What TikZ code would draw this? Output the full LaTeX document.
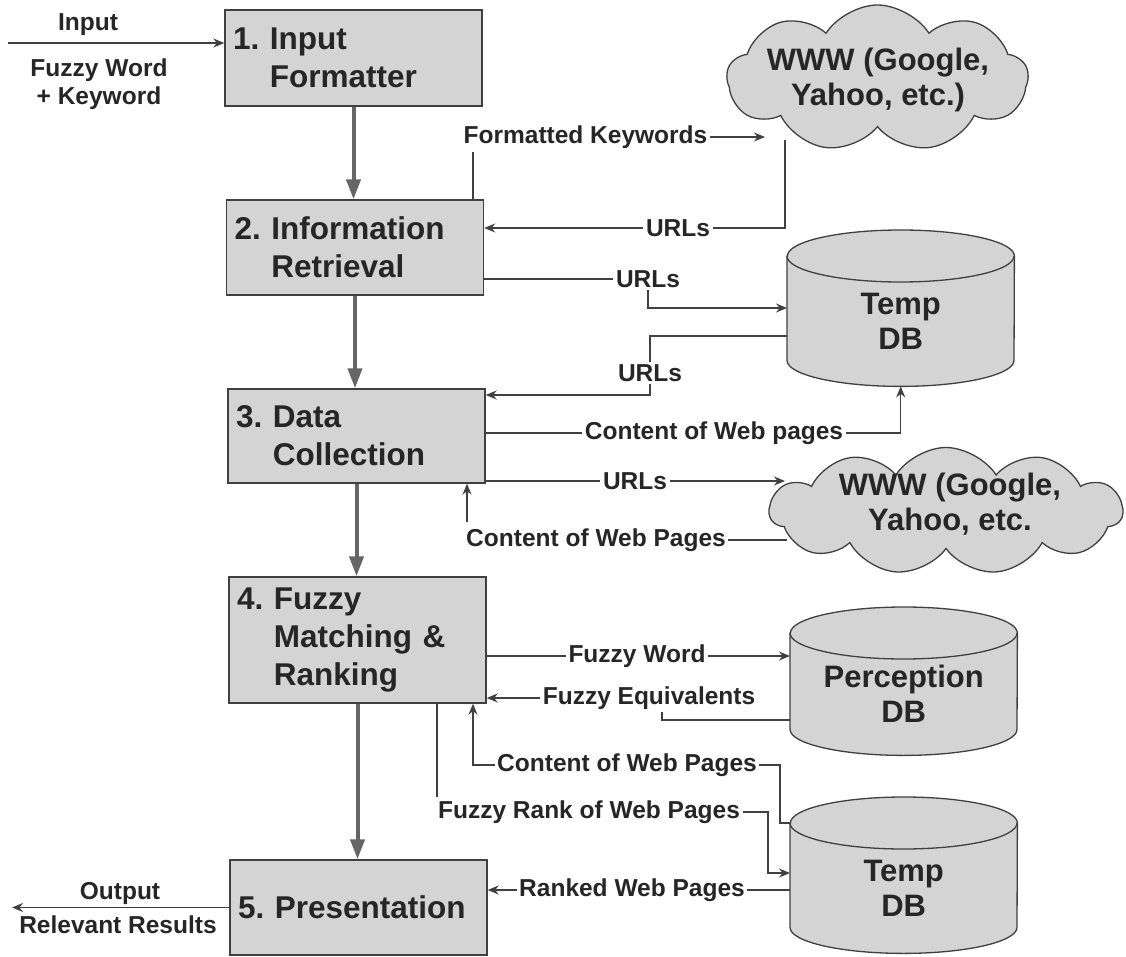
\documentclass[tikz,border=0pt]{standalone}
\usepackage{fontspec}
\setmainfont{Liberation Sans}
\usetikzlibrary{shapes.symbols, arrows.meta, backgrounds}

% database cylinder: name, left x, top of body (centre of the lid), width, half width, body height, text
\newcommand{\dbunit}[7]{%
  \node[dbbody, minimum width=#4pt, minimum height=#6pt, anchor=north west] (#1) at (#2,#3) {#7};
  \begin{scope}[on background layer]
    \path[dbfill] (#1.north west) -- ([yshift=26pt]#1.south west)
      arc[start angle=180, end angle=360, x radius=#5pt, y radius=26pt]
      -- (#1.north east)
      arc[start angle=0, end angle=180, x radius=#5pt, y radius=26pt] -- cycle;
    \draw[dbfill, fill=none] (#1.north west)
      arc[start angle=180, end angle=360, x radius=#5pt, y radius=26pt];
  \end{scope}}

\begin{document}
\begin{tikzpicture}[x=1pt, y=-1pt,
  stage/.style={draw=black!75, line width=1.4pt, fill=black!17, text=black!85,
    text width=241pt, align=left, inner sep=8pt,
    font=\fontsize{31.5}{38}\selectfont\bfseries},
  tag/.style={text=black!85, inner sep=2.5pt, align=center,
    font=\fontsize{24.5}{28}\selectfont\bfseries},
  ln/.style={draw=black!75, line width=1.3pt},
  arr/.style={ln, -{Stealth[length=11pt, width=9pt]}},
  flow/.style={draw=black!60, line width=4pt, -{Triangle[length=20pt, width=14pt]}},
  web/.style={cloud, cloud puff arc=115, cloud ignores aspect,
    draw=black!75, line width=1.3pt, fill=black!17, inner sep=0pt},
  bigtxt/.style={text=black!85, align=center, font=\fontsize{31}{35}\selectfont\bfseries},
  dbbody/.style={bigtxt, inner sep=0pt},
  dbfill/.style={draw=black!75, line width=1.3pt, fill=black!17},
]
\begin{scope}[on background layer]
  \fill[white] (0,0) rectangle (1126,957);
\end{scope}
\useasboundingbox (0,0) rectangle (1126,957);

% processing stages
\node[stage, minimum height=96pt] (s1) at (353.5,58) {1.~Input\\\hphantom{1.~}Formatter};
\node[stage, minimum height=95pt] (s2) at (355,247.5) {2.~Information\\\hphantom{2.~}Retrieval};
\node[stage, minimum height=94pt] (s3) at (356.5,436) {3.~Data\\\hphantom{3.~}Collection};
\node[stage, minimum height=126pt] (s4) at (357.5,640) {4.~Fuzzy\\\hphantom{4.~}Matching \&\\\hphantom{4.~}Ranking};
\node[stage, minimum height=95pt] (s5) at (358.5,907.5) {5.~Presentation};

% web search engines
\node[web, cloud puffs=9, minimum width=301pt, minimum height=147pt] (wwwA) at (877.5,78.5) {};
\node[bigtxt] (wwwAtxt) at (878,80) {WWW (Google,\\Yahoo, etc.)};
\node[web, cloud puffs=11, minimum width=353pt, minimum height=127pt] (wwwB) at (946,511) {};
\node[bigtxt] (wwwBtxt) at (950,504) {WWW (Google,\\Yahoo, etc.};

% databases
\dbunit{tmpA}{787}{256}{227}{113.5}{130}{Temp\\DB}
\dbunit{percdb}{790}{633}{227}{113.5}{122}{Perception\\DB}
\dbunit{tmpB}{790}{823}{227}{113.5}{130}{Temp\\DB}

% labels
\node[tag] (lIn) at (88,25) {Input};
\node[tag] (lFK) at (99,84) {Fuzzy Word\\+ Keyword};
\node[tag] (lOut) at (120,893) {Output};
\node[tag] (lRR) at (118,925) {Relevant Results};
\node[tag] (lFmt) at (585.5,137) {Formatted Keywords};
\node[tag] (lU1) at (678,228) {URLs};
\node[tag] (lU2) at (648,279) {URLs};
\node[tag] (lU3) at (650,373) {URLs};
\node[tag] (lCA) at (714,433) {Content of Web pages};
\node[tag] (lU4) at (635,481) {URLs};
\node[tag] (lCB) at (596,540) {Content of Web Pages};
\node[tag] (lFW) at (637,656) {Fuzzy Word};
\node[tag] (lFE) at (649,698) {Fuzzy Equivalents};
\node[tag] (lCC) at (627,765) {Content of Web Pages};
\node[tag] (lFR) at (589,812) {Fuzzy Rank of Web Pages};
\node[tag] (lRW) at (632,890) {Ranked Web Pages};

% free ends of connectors
\coordinate (inS) at (8,43);
\coordinate (outE) at (12,0);
\coordinate (fkFoot) at (473,152);
\coordinate (kwTip) at (765,137);
\coordinate (wAout) at (785,140);
\coordinate (wBin) at (785,481);
\coordinate (wBout) at (787,0);
\coordinate (cbUp) at (467,522);
\coordinate (feFoot) at (662,712);
\coordinate (ccBend) at (780,765);
\coordinate (ccUp) at (473,0);
\coordinate (frTop) at (437,797);
\coordinate (frBend) at (768,873);

% main flow
\draw[flow] (s1.south) -- (s1.south |- s2.north);
\draw[flow] (s2.south) -- (s2.south |- s3.north);
\draw[flow] (s3.south) -- (s3.south |- s4.north);
\draw[flow] (s4.south) -- (s4.south |- s5.north);

% input and output
\draw[arr] (inS) -- (inS -| s1.west);
\draw[arr] (s5.west) -- (s5.west -| outE);

% stage 2 <-> web and temp db
\draw[ln] (fkFoot |- s2.north) -- (fkFoot);
\draw[arr] (lFmt.east) -- (kwTip);
\draw[ln] (wAout) |- (lU1.east);
\draw[arr] (lU1.west) -- (lU1.west -| s2.east);
\draw[ln] (s2.east |- lU2) -- (lU2.west);
\draw[arr] (lU2.south) |- (tmpA.west |- 0,308);

% stage 3 <-> temp db and web
\draw[ln] (tmpA.west |- 0,336) -| (lU3.north);
\draw[arr] (lU3.south) |- (s3.east |- 0,395);
\draw[ln] (s3.east |- lCA) -- (lCA.west);
\draw[arr] (lCA.east) -| (tmpA.south);
\draw[ln] (s3.east |- lU4) -- (lU4.west);
\draw[arr] (lU4.east) -- (wBin);
\draw[ln] (lCB.east -| wBout) -- (lCB.east);
\draw[arr] (cbUp) -- (cbUp |- s3.south);

% stage 4 <-> perception db and temp db
\draw[ln] (s4.east |- lFW) -- (lFW.west);
\draw[arr] (lFW.east) -- (lFW.east -| percdb.west);
\draw[ln] (feFoot) |- (percdb.west |- 0,720);
\draw[arr] (lFE.west) -- (lFE.west -| s4.east);
\draw[ln] (lCC.east) -- (ccBend) |- (tmpB.north west);
\draw[arr] (lCC.west) -| (ccUp |- s4.south);
\draw[ln] (frTop |- s4.south) -- (frTop);
\draw[arr] (lFR.east) -| (frBend) -- (frBend -| tmpB.west);

% stage 5
\draw[ln] (lRW.east -| tmpB.west) -- (lRW.east);
\draw[arr] (lRW.west) -- (lRW.west -| s5.east);
\end{tikzpicture}
\end{document}
